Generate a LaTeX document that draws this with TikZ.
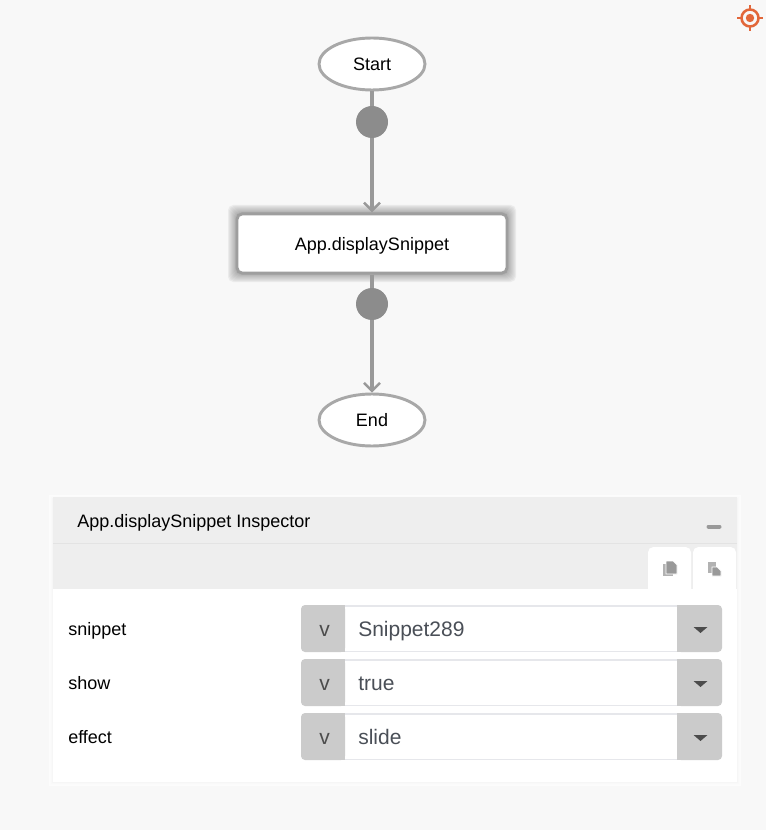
\documentclass[tikz,border=0pt]{standalone}
\usepackage{fontspec}
\setmainfont{Liberation Sans}
\usetikzlibrary{arrows.meta,shapes.geometric}

\definecolor{pagebg}{HTML}{F8F8F8}
\definecolor{edgegray}{HTML}{999999}
\definecolor{dotgray}{HTML}{8C8C8C}
\definecolor{headgray}{HTML}{EEEEEE}
\definecolor{addongray}{HTML}{CBCBCB}
\definecolor{fieldline}{HTML}{E6E7EB}
\definecolor{valuetext}{HTML}{4A4F57}
\definecolor{targetcol}{HTML}{E2673A}

\tikzset{
    flowend/.style={ellipse, draw=edgegray!85!white, line width=2.2pt, fill=white, minimum width=79.5pt, minimum height=39pt, inner sep=0pt, font=\fontsize{13.5}{16}\selectfont},
    flowdot/.style={circle, fill=dotgray, minimum size=24pt, inner sep=0pt},
    flowbox/.style={rectangle, rounded corners=4pt, draw=black!38, line width=2.2pt, fill=white, minimum width=202.5pt, minimum height=44.5pt, inner sep=0pt, text depth=0pt, font=\fontsize{13.5}{16}\selectfont},
    flowedge/.style={draw=edgegray, line width=2.3pt, -{Straight Barb[length=6pt,width=12pt,line width=1.8pt]}},
    flowlink/.style={draw=edgegray, line width=2.3pt},
    fieldlabel/.style={anchor=base west, inner sep=0pt, font=\fontsize{13.5}{16}\selectfont},
    fieldvalue/.style={anchor=base west, inner sep=0pt, text=valuetext, font=\fontsize{15.75}{18}\selectfont}
}

\begin{document}
\begin{tikzpicture}[x=0.75pt, y=-0.75pt]
    \useasboundingbox (0,0) rectangle (766,830);
    \fill[pagebg] (0,0) rectangle (766,830);

    % locate icon
    \draw[targetcol, line width=1.9pt] (750,18) circle (8.5);
    \fill[targetcol] (750,18) circle (4.2);
    \foreach \dx/\dy in {1/0,-1/0,0/1,0/-1}
        \draw[targetcol, line width=2pt] (750+8*\dx,18+8*\dy) -- (750+13*\dx,18+13*\dy);

    % soft glow round the selected step
    \foreach \grow/\shade in {9/8,8/12,7/15,6/18,5/21,4/24,3/27,2/30}
        \fill[black!\shade, rounded corners=4pt] (237-\grow,214-\grow) rectangle (507+\grow,273+\grow);

    \node (start) [flowend] at (372,64) {Start};
    \node (dotA) [flowdot] at (372,122) {};
    \node (snippet) [flowbox] at (372,243.5) {App.displaySnippet};
    \node (dotB) [flowdot] at (372,304) {};
    \node (end) [flowend] at (372,420) {End};

    \draw[flowlink] (start) -- (dotA);
    \draw[flowedge] (dotA) -- (snippet);
    \draw[flowlink] (snippet) -- (dotB);
    \draw[flowedge] (dotB) -- (end);

    % inspector panel
    \foreach \grow/\shade in {4/1,3/1.5,2/2.5,1/3.5}
        \fill[black!\shade] (53-\grow,497-\grow+2) rectangle (737+\grow,782+\grow);
    \fill[white] (53,497) rectangle (737,782);
    \fill[headgray] (53,497) rectangle (737,589);
    \draw[black!11, line width=0.75pt] (53,543) -- (737,543);
    \node (title) [fieldlabel] at (77,527) {App.displaySnippet Inspector};
    \draw[edgegray, line width=3pt, line cap=round] (708.5,526.5) -- (719.5,526.5);

    % the two tabs
    \foreach \tabx in {648,693}
        \fill[white, rounded corners=4pt] (\tabx,600) -- (\tabx,547) -- (\tabx+43,547) -- (\tabx+43,600) -- cycle;
    \fill[white] (648,589) rectangle (737,600);

    \fill[edgegray!75] (663,564) rectangle (673,576);
    \fill[edgegray, draw=white, line width=0.5pt] (666,561) -- (673,561) -- (677,565) -- (677,574) -- (666,574) -- cycle;
    \fill[edgegray!75] (708,562) rectangle (716,573);
    \fill[edgegray, draw=white, line width=0.5pt] (712,567) -- (717,567) -- (721,571) -- (721,576) -- (712,576) -- cycle;

    % one row per property
    \foreach \rowy/\rowname/\rowvalue in {605/snippet/Snippet289, 659/show/true, 713/effect/slide} {
        \draw[fieldline, line width=1.2pt] (345,\rowy+0.7) -- (677,\rowy+0.7);
        \draw[fieldline, line width=1.2pt] (345,\rowy+46.3) -- (677,\rowy+46.3);
        \fill[addongray, rounded corners=3pt] (301,\rowy) -- (345,\rowy) -- (345,\rowy+47) -- (301,\rowy+47) -- cycle;
        \fill[addongray] (340,\rowy) rectangle (345,\rowy+47);
        \fill[addongray, rounded corners=3pt] (677,\rowy) -- (722,\rowy) -- (722,\rowy+47) -- (677,\rowy+47) -- cycle;
        \fill[addongray] (677,\rowy) rectangle (682,\rowy+47);
        \fill[black!70] (693.5,\rowy+22) -- (707.5,\rowy+22) -- (700.5,\rowy+28) -- cycle;
        \node (lab\rowname) [fieldlabel] at (68,\rowy+30) {\rowname};
        \node (var\rowname) [fieldvalue, text=black!70] at (319,\rowy+31) {v};
        \node (val\rowname) [fieldvalue] at (358,\rowy+31) {\rowvalue};
    }
\end{tikzpicture}
\end{document}
